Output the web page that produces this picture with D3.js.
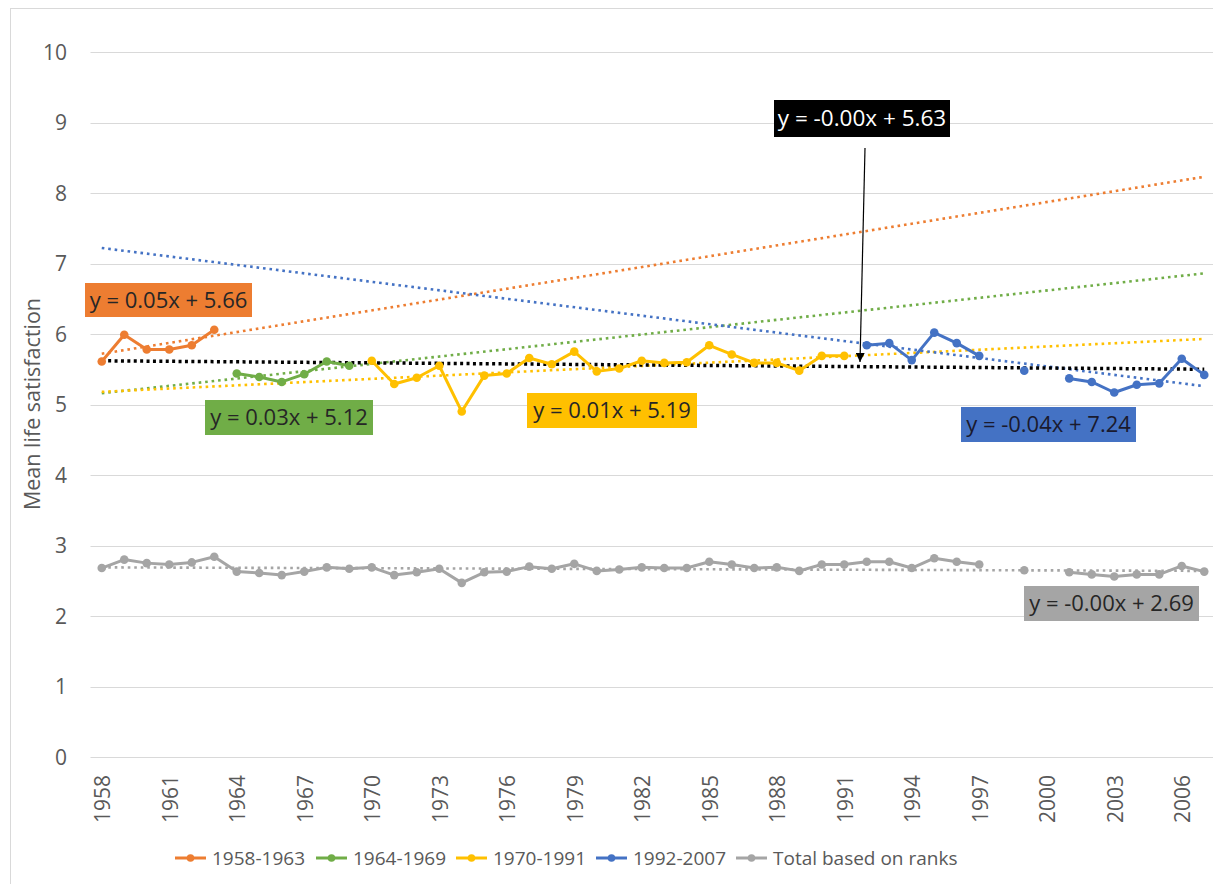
<!DOCTYPE html>
<html><head><meta charset="utf-8">
<script src="https://cdn.jsdelivr.net/npm/d3@7"></script>
<style>
html,body{margin:0;padding:0;background:#fff;}
svg{display:block;font-family:"Open Sans",sans-serif;}
</style></head>
<body><svg id="chart" width="1213" height="884"></svg>
<script>
// ---------- data ----------
const years = d3.range(1958, 2008);
const tickYears = d3.range(1958, 2008, 3);
const yTicks = [0,1,2,3,4,5,6,7,8,9,10];

const orangeYears = [1958,1959,1960,1961,1962,1963];
const orangeVals  = [5.61,5.99,5.78,5.78,5.84,6.06];
const greenYears  = [1964,1965,1966,1967,1968,1969];
const greenVals   = [5.44,5.39,5.32,5.43,5.61,5.55];
const yellowYears = d3.range(1970, 1992);
const yellowVals  = [5.62,5.29,5.38,5.55,4.90,5.41,5.44,5.66,5.57,5.75,5.47,5.51,5.62,5.59,5.60,5.84,5.71,5.59,5.59,5.48,5.69,5.69];
const blueYears   = d3.range(1992, 2008);
const blueVals    = [5.84,5.87,5.63,6.02,5.87,5.69,null,5.48,null,5.37,5.32,5.17,5.28,5.30,5.65,5.42];
const grayVals    = [2.68,2.80,2.75,2.73,2.76,2.84,2.63,2.61,2.58,2.63,
                     2.69,2.67,2.69,2.58,2.62,2.67,2.47,2.62,2.63,2.70,
                     2.67,2.74,2.64,2.66,2.69,2.68,2.68,2.77,2.73,2.68,
                     2.69,2.64,2.73,2.73,2.77,2.77,2.68,2.82,2.77,2.73,
                     null,2.65,null,2.62,2.59,2.56,2.59,2.59,2.71,2.63];

// trendline values at first (1958) and last (2007) category
const trendNames = ["orange","green","yellow","blue","all","gray"];
const trendStart = [5.72,5.16,5.18,7.22,5.62,2.69];
const trendEnd   = [8.23,6.86,5.93,5.26,5.50,2.64];
const trendLabels = ["y = 0.05x + 5.66","y = 0.03x + 5.12","y = 0.01x + 5.19","y = -0.04x + 7.24","y = -0.00x + 5.63","y = -0.00x + 2.69"];

const legendNames = ["1958-1963","1964-1969","1970-1991","1992-2007","Total based on ranks"];
const yAxisTitle = "Mean life satisfaction";

// ---------- styles ----------
const colors = {orange:"#ED7D31", green:"#70AD47", yellow:"#FFC000", blue:"#4472C4", gray:"#A5A5A5", all:"#000000"};

const svg = d3.select("#chart");
const W = 1213, H = 884;

// chart frame
svg.append("rect").attr("x",10.5).attr("y",8.5).attr("width",1300).attr("height",1000)
  .attr("fill","#fff").attr("stroke","#D9D9D9").attr("stroke-width",1);

const plotLeft = 90.5, plotRight = 1215.5, plotTop = 52, plotBottom = 757;
const x = d3.scaleBand().domain(years).range([plotLeft, plotRight]);
const xc = yr => x(yr) + x.bandwidth()/2;
const y = d3.scaleLinear().domain([0,10]).range([plotBottom, plotTop]);

// gridlines
svg.append("g").selectAll("line").data(yTicks).join("line")
  .attr("x1", plotLeft).attr("x2", W).attr("y1", d=>Math.round(y(d))+0.5).attr("y2", d=>Math.round(y(d))+0.5)
  .attr("stroke","#D9D9D9").attr("stroke-width",1);

// y axis labels
const yAxis = d3.axisLeft(y).tickValues(yTicks).tickSize(0).tickPadding(0);
const gy = svg.append("g").attr("transform",`translate(67,0)`).call(yAxis);
gy.select(".domain").remove();
gy.selectAll("text").attr("font-size",21).attr("fill","#595959").attr("font-family","Open Sans").attr("dy","0.35em");

// x axis labels
const xAxis = d3.axisBottom(x).tickValues(tickYears).tickSize(0).tickPadding(0);
const gx = svg.append("g").attr("transform",`translate(0,${plotBottom})`).call(xAxis);
gx.select(".domain").remove();
gx.selectAll("text").attr("font-size",21).attr("fill","#595959").attr("font-family","Open Sans")
  .attr("text-anchor","end").attr("transform","translate(1,18) rotate(-90)").attr("x",0).attr("y",0).attr("dy","0.35em");

// y axis title
svg.append("text").attr("transform",`translate(32,404) rotate(-90)`)
  .attr("text-anchor","middle").attr("dy","0.35em").attr("font-size",21.5).attr("fill","#595959").text(yAxisTitle);

// trendlines
const tg = svg.append("g");
trendNames.forEach((n,i)=>{
  const isAll = n==="all";
  tg.append("line")
    .attr("x1", xc(years[0])).attr("y1", y(trendStart[i]))
    .attr("x2", xc(years[years.length-1])).attr("y2", y(trendEnd[i]))
    .attr("stroke", colors[n]).attr("stroke-width", isAll?3.5:2.6)
    .attr("stroke-dasharray", isAll?"3 3.4":"2.6 3.9");
});

// series
const seriesList = [
  {key:"gray",   yrs:years,       vals:grayVals},
  {key:"orange", yrs:orangeYears, vals:orangeVals},
  {key:"green",  yrs:greenYears,  vals:greenVals},
  {key:"yellow", yrs:yellowYears, vals:yellowVals},
  {key:"blue",   yrs:blueYears,   vals:blueVals}
];
const line = d3.line().defined(d=>d.v!=null).x(d=>xc(d.yr)).y(d=>y(d.v));
seriesList.forEach(s=>{
  const pts = s.yrs.map((yr,i)=>({yr, v:s.vals[i]}));
  const g = svg.append("g");
  g.append("path").datum(pts).attr("d",line).attr("fill","none")
    .attr("stroke",colors[s.key]).attr("stroke-width",3).attr("stroke-linejoin","round").attr("stroke-linecap","round");
  g.selectAll("circle").data(pts.filter(d=>d.v!=null)).join("circle")
    .attr("cx",d=>xc(d.yr)).attr("cy",d=>y(d.v)).attr("r",4.3).attr("fill",colors[s.key]);
});

// trendline labels
const labelBoxes = [
  {i:0, x:85,   y:283, w:167, h:34, bg:"#ED7D31", fg:"#262626", fs:22},
  {i:1, x:205,  y:400, w:168, h:35, bg:"#70AD47", fg:"#262626", fs:22},
  {i:2, x:527,  y:393, w:170, h:35, bg:"#FFC000", fg:"#262626", fs:22},
  {i:3, x:961,  y:407, w:175, h:35, bg:"#4472C4", fg:"#1a1a2e", fs:22},
  {i:4, x:774,  y:100, w:176, h:37, bg:"#000000", fg:"#ffffff", fs:22.5},
  {i:5, x:1024, y:586, w:175, h:35, bg:"#A5A5A5", fg:"#262626", fs:22}
];
const lg = svg.append("g");
labelBoxes.forEach(b=>{
  lg.append("rect").attr("x",b.x).attr("y",b.y).attr("width",b.w).attr("height",b.h).attr("fill",b.bg);
  lg.append("text").attr("x",b.x+b.w/2).attr("y",b.y+b.h/2).attr("dy","0.35em").attr("text-anchor","middle")
    .attr("font-size",b.fs).attr("fill",b.fg).text(trendLabels[b.i]);
});

// arrow
svg.append("defs").append("marker").attr("id","arrow").attr("viewBox","0 0 10 10").attr("refX",10).attr("refY",5)
  .attr("markerWidth",9).attr("markerHeight",9).attr("markerUnits","userSpaceOnUse").attr("orient","auto")
  .append("path").attr("d","M0,0 L10,5 L0,10 z").attr("fill","#000");
svg.append("line").attr("x1",865).attr("y1",148).attr("x2",860).attr("y2",362)
  .attr("stroke","#000").attr("stroke-width",1.2).attr("marker-end","url(#arrow)");

// legend
const legendKeys = ["orange","green","yellow","blue","gray"];
const legendX = [175, 316, 456, 596, 736];
const leg = svg.append("g");
legendKeys.forEach((k,i)=>{
  const g = leg.append("g").attr("transform",`translate(${legendX[i]},858)`);
  g.append("line").attr("x1",0).attr("x2",31).attr("y1",0).attr("y2",0).attr("stroke",colors[k]).attr("stroke-width",3);
  g.append("circle").attr("cx",15.5).attr("cy",0).attr("r",3.8).attr("fill",colors[k]);
  g.append("text").attr("x",37).attr("y",0).attr("dy","0.35em").attr("font-size",19).attr("fill","#595959")
    .text(legendNames[i]);
});
</script></body></html>
